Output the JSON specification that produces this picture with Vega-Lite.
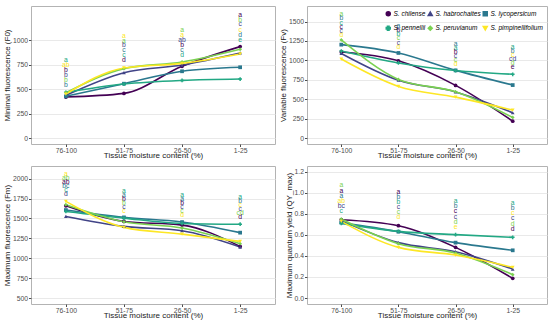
{
  "$schema": "https://vega.github.io/schema/vega-lite/v6.json",
  "background": "white",
  "padding": {"left": 2, "top": 5, "right": 6, "bottom": 0},
  "datasets": {
    "pts": [
      {"panel": "F0", "species": "S. chilense", "moisture": "76-100", "value": 420},
      {"panel": "F0", "species": "S. chilense", "moisture": "51-75", "value": 457},
      {"panel": "F0", "species": "S. chilense", "moisture": "26-50", "value": 734},
      {"panel": "F0", "species": "S. chilense", "moisture": "1-25", "value": 935},
      {"panel": "F0", "species": "S. habrochaites", "moisture": "76-100", "value": 437},
      {"panel": "F0", "species": "S. habrochaites", "moisture": "51-75", "value": 669},
      {"panel": "F0", "species": "S. habrochaites", "moisture": "26-50", "value": 747},
      {"panel": "F0", "species": "S. habrochaites", "moisture": "1-25", "value": 870},
      {"panel": "F0", "species": "S. lycopersicum", "moisture": "76-100", "value": 427},
      {"panel": "F0", "species": "S. lycopersicum", "moisture": "51-75", "value": 556},
      {"panel": "F0", "species": "S. lycopersicum", "moisture": "26-50", "value": 683},
      {"panel": "F0", "species": "S. lycopersicum", "moisture": "1-25", "value": 724},
      {"panel": "F0", "species": "S. pennellii", "moisture": "76-100", "value": 468},
      {"panel": "F0", "species": "S. pennellii", "moisture": "51-75", "value": 553},
      {"panel": "F0", "species": "S. pennellii", "moisture": "26-50", "value": 590},
      {"panel": "F0", "species": "S. pennellii", "moisture": "1-25", "value": 604},
      {"panel": "F0", "species": "S. peruvianum", "moisture": "76-100", "value": 464},
      {"panel": "F0", "species": "S. peruvianum", "moisture": "51-75", "value": 710},
      {"panel": "F0", "species": "S. peruvianum", "moisture": "26-50", "value": 778},
      {"panel": "F0", "species": "S. peruvianum", "moisture": "1-25", "value": 908},
      {"panel": "F0", "species": "S. pimpinellifolium", "moisture": "76-100", "value": 450},
      {"panel": "F0", "species": "S. pimpinellifolium", "moisture": "51-75", "value": 717},
      {"panel": "F0", "species": "S. pimpinellifolium", "moisture": "26-50", "value": 764},
      {"panel": "F0", "species": "S. pimpinellifolium", "moisture": "1-25", "value": 860},

      {"panel": "Fv", "species": "S. chilense", "moisture": "76-100", "value": 1109},
      {"panel": "Fv", "species": "S. chilense", "moisture": "51-75", "value": 995},
      {"panel": "Fv", "species": "S. chilense", "moisture": "26-50", "value": 679},
      {"panel": "Fv", "species": "S. chilense", "moisture": "1-25", "value": 219},
      {"panel": "Fv", "species": "S. habrochaites", "moisture": "76-100", "value": 1090},
      {"panel": "Fv", "species": "S. habrochaites", "moisture": "51-75", "value": 745},
      {"panel": "Fv", "species": "S. habrochaites", "moisture": "26-50", "value": 595},
      {"panel": "Fv", "species": "S. habrochaites", "moisture": "1-25", "value": 327},
      {"panel": "Fv", "species": "S. lycopersicum", "moisture": "76-100", "value": 1203},
      {"panel": "Fv", "species": "S. lycopersicum", "moisture": "51-75", "value": 1096},
      {"panel": "Fv", "species": "S. lycopersicum", "moisture": "26-50", "value": 872},
      {"panel": "Fv", "species": "S. lycopersicum", "moisture": "1-25", "value": 683},
      {"panel": "Fv", "species": "S. pennellii", "moisture": "76-100", "value": 1121},
      {"panel": "Fv", "species": "S. pennellii", "moisture": "51-75", "value": 967},
      {"panel": "Fv", "species": "S. pennellii", "moisture": "26-50", "value": 870},
      {"panel": "Fv", "species": "S. pennellii", "moisture": "1-25", "value": 822},
      {"panel": "Fv", "species": "S. peruvianum", "moisture": "76-100", "value": 1263},
      {"panel": "Fv", "species": "S. peruvianum", "moisture": "51-75", "value": 756},
      {"panel": "Fv", "species": "S. peruvianum", "moisture": "26-50", "value": 597},
      {"panel": "Fv", "species": "S. peruvianum", "moisture": "1-25", "value": 266},
      {"panel": "Fv", "species": "S. pimpinellifolium", "moisture": "76-100", "value": 1018},
      {"panel": "Fv", "species": "S. pimpinellifolium", "moisture": "51-75", "value": 666},
      {"panel": "Fv", "species": "S. pimpinellifolium", "moisture": "26-50", "value": 528},
      {"panel": "Fv", "species": "S. pimpinellifolium", "moisture": "1-25", "value": 361},

      {"panel": "Fm", "species": "S. chilense", "moisture": "76-100", "value": 1660},
      {"panel": "Fm", "species": "S. chilense", "moisture": "51-75", "value": 1463},
      {"panel": "Fm", "species": "S. chilense", "moisture": "26-50", "value": 1417},
      {"panel": "Fm", "species": "S. chilense", "moisture": "1-25", "value": 1149},
      {"panel": "Fm", "species": "S. habrochaites", "moisture": "76-100", "value": 1526},
      {"panel": "Fm", "species": "S. habrochaites", "moisture": "51-75", "value": 1401},
      {"panel": "Fm", "species": "S. habrochaites", "moisture": "26-50", "value": 1346},
      {"panel": "Fm", "species": "S. habrochaites", "moisture": "1-25", "value": 1141},
      {"panel": "Fm", "species": "S. lycopersicum", "moisture": "76-100", "value": 1606},
      {"panel": "Fm", "species": "S. lycopersicum", "moisture": "51-75", "value": 1514},
      {"panel": "Fm", "species": "S. lycopersicum", "moisture": "26-50", "value": 1455},
      {"panel": "Fm", "species": "S. lycopersicum", "moisture": "1-25", "value": 1322},
      {"panel": "Fm", "species": "S. pennellii", "moisture": "76-100", "value": 1589},
      {"panel": "Fm", "species": "S. pennellii", "moisture": "51-75", "value": 1505},
      {"panel": "Fm", "species": "S. pennellii", "moisture": "26-50", "value": 1438},
      {"panel": "Fm", "species": "S. pennellii", "moisture": "1-25", "value": 1428},
      {"panel": "Fm", "species": "S. peruvianum", "moisture": "76-100", "value": 1673},
      {"panel": "Fm", "species": "S. peruvianum", "moisture": "51-75", "value": 1459},
      {"panel": "Fm", "species": "S. peruvianum", "moisture": "26-50", "value": 1380},
      {"panel": "Fm", "species": "S. peruvianum", "moisture": "1-25", "value": 1183},
      {"panel": "Fm", "species": "S. pimpinellifolium", "moisture": "76-100", "value": 1715},
      {"panel": "Fm", "species": "S. pimpinellifolium", "moisture": "51-75", "value": 1388},
      {"panel": "Fm", "species": "S. pimpinellifolium", "moisture": "26-50", "value": 1304},
      {"panel": "Fm", "species": "S. pimpinellifolium", "moisture": "1-25", "value": 1212},

      {"panel": "QY", "species": "S. chilense", "moisture": "76-100", "value": 0.744},
      {"panel": "QY", "species": "S. chilense", "moisture": "51-75", "value": 0.687},
      {"panel": "QY", "species": "S. chilense", "moisture": "26-50", "value": 0.481},
      {"panel": "QY", "species": "S. chilense", "moisture": "1-25", "value": 0.187},
      {"panel": "QY", "species": "S. habrochaites", "moisture": "76-100", "value": 0.735},
      {"panel": "QY", "species": "S. habrochaites", "moisture": "51-75", "value": 0.526},
      {"panel": "QY", "species": "S. habrochaites", "moisture": "26-50", "value": 0.44},
      {"panel": "QY", "species": "S. habrochaites", "moisture": "1-25", "value": 0.275},
      {"panel": "QY", "species": "S. lycopersicum", "moisture": "76-100", "value": 0.716},
      {"panel": "QY", "species": "S. lycopersicum", "moisture": "51-75", "value": 0.63},
      {"panel": "QY", "species": "S. lycopersicum", "moisture": "26-50", "value": 0.526},
      {"panel": "QY", "species": "S. lycopersicum", "moisture": "1-25", "value": 0.453},
      {"panel": "QY", "species": "S. pennellii", "moisture": "76-100", "value": 0.709},
      {"panel": "QY", "species": "S. pennellii", "moisture": "51-75", "value": 0.633},
      {"panel": "QY", "species": "S. pennellii", "moisture": "26-50", "value": 0.602},
      {"panel": "QY", "species": "S. pennellii", "moisture": "1-25", "value": 0.576},
      {"panel": "QY", "species": "S. peruvianum", "moisture": "76-100", "value": 0.75},
      {"panel": "QY", "species": "S. peruvianum", "moisture": "51-75", "value": 0.516},
      {"panel": "QY", "species": "S. peruvianum", "moisture": "26-50", "value": 0.427},
      {"panel": "QY", "species": "S. peruvianum", "moisture": "1-25", "value": 0.222},
      {"panel": "QY", "species": "S. pimpinellifolium", "moisture": "76-100", "value": 0.728},
      {"panel": "QY", "species": "S. pimpinellifolium", "moisture": "51-75", "value": 0.481},
      {"panel": "QY", "species": "S. pimpinellifolium", "moisture": "26-50", "value": 0.408},
      {"panel": "QY", "species": "S. pimpinellifolium", "moisture": "1-25", "value": 0.291}
    ],
    "lets": [
      {"panel": "F0", "moisture": "76-100", "species": "S. pennellii", "letter": "a", "value": 795},
      {"panel": "F0", "moisture": "76-100", "species": "S. pimpinellifolium", "letter": "ab", "value": 744},
      {"panel": "F0", "moisture": "76-100", "species": "S. chilense", "letter": "b", "value": 693},
      {"panel": "F0", "moisture": "76-100", "species": "S. habrochaites", "letter": "b", "value": 645},
      {"panel": "F0", "moisture": "76-100", "species": "S. peruvianum", "letter": "b", "value": 594},
      {"panel": "F0", "moisture": "76-100", "species": "S. lycopersicum", "letter": "b", "value": 543},
      {"panel": "F0", "moisture": "51-75", "species": "S. pimpinellifolium", "letter": "a", "value": 1048},
      {"panel": "F0", "moisture": "51-75", "species": "S. peruvianum", "letter": "a", "value": 997},
      {"panel": "F0", "moisture": "51-75", "species": "S. habrochaites", "letter": "b", "value": 949},
      {"panel": "F0", "moisture": "51-75", "species": "S. lycopersicum", "letter": "c", "value": 898},
      {"panel": "F0", "moisture": "51-75", "species": "S. pennellii", "letter": "c", "value": 847},
      {"panel": "F0", "moisture": "51-75", "species": "S. chilense", "letter": "d", "value": 795},
      {"panel": "F0", "moisture": "26-50", "species": "S. peruvianum", "letter": "a", "value": 1106},
      {"panel": "F0", "moisture": "26-50", "species": "S. pimpinellifolium", "letter": "a", "value": 1055},
      {"panel": "F0", "moisture": "26-50", "species": "S. habrochaites", "letter": "ab", "value": 1003},
      {"panel": "F0", "moisture": "26-50", "species": "S. chilense", "letter": "b", "value": 952},
      {"panel": "F0", "moisture": "26-50", "species": "S. lycopersicum", "letter": "c", "value": 901},
      {"panel": "F0", "moisture": "26-50", "species": "S. pennellii", "letter": "d", "value": 850},
      {"panel": "F0", "moisture": "1-25", "species": "S. chilense", "letter": "a", "value": 1263},
      {"panel": "F0", "moisture": "1-25", "species": "S. peruvianum", "letter": "b", "value": 1212},
      {"panel": "F0", "moisture": "1-25", "species": "S. habrochaites", "letter": "c", "value": 1161},
      {"panel": "F0", "moisture": "1-25", "species": "S. pimpinellifolium", "letter": "c", "value": 1109},
      {"panel": "F0", "moisture": "1-25", "species": "S. lycopersicum", "letter": "d", "value": 1058},
      {"panel": "F0", "moisture": "1-25", "species": "S. pennellii", "letter": "e", "value": 1007},

      {"panel": "Fv", "moisture": "76-100", "species": "S. peruvianum", "letter": "a", "value": 1594},
      {"panel": "Fv", "moisture": "76-100", "species": "S. lycopersicum", "letter": "b", "value": 1540},
      {"panel": "Fv", "moisture": "76-100", "species": "S. pennellii", "letter": "c", "value": 1486},
      {"panel": "Fv", "moisture": "76-100", "species": "S. chilense", "letter": "c", "value": 1432},
      {"panel": "Fv", "moisture": "76-100", "species": "S. habrochaites", "letter": "c", "value": 1378},
      {"panel": "Fv", "moisture": "76-100", "species": "S. pimpinellifolium", "letter": "d", "value": 1324},
      {"panel": "Fv", "moisture": "51-75", "species": "S. lycopersicum", "letter": "a", "value": 1440},
      {"panel": "Fv", "moisture": "51-75", "species": "S. chilense", "letter": "b", "value": 1388},
      {"panel": "Fv", "moisture": "51-75", "species": "S. pennellii", "letter": "b", "value": 1335},
      {"panel": "Fv", "moisture": "51-75", "species": "S. peruvianum", "letter": "c", "value": 1283},
      {"panel": "Fv", "moisture": "51-75", "species": "S. habrochaites", "letter": "c", "value": 1230},
      {"panel": "Fv", "moisture": "51-75", "species": "S. pimpinellifolium", "letter": "d", "value": 1178},
      {"panel": "Fv", "moisture": "26-50", "species": "S. lycopersicum", "letter": "a", "value": 1216},
      {"panel": "Fv", "moisture": "26-50", "species": "S. pennellii", "letter": "a", "value": 1164},
      {"panel": "Fv", "moisture": "26-50", "species": "S. chilense", "letter": "b", "value": 1113},
      {"panel": "Fv", "moisture": "26-50", "species": "S. habrochaites", "letter": "c", "value": 1061},
      {"panel": "Fv", "moisture": "26-50", "species": "S. peruvianum", "letter": "c", "value": 1010},
      {"panel": "Fv", "moisture": "26-50", "species": "S. pimpinellifolium", "letter": "d", "value": 958},
      {"panel": "Fv", "moisture": "1-25", "species": "S. pennellii", "letter": "a", "value": 1177},
      {"panel": "Fv", "moisture": "1-25", "species": "S. lycopersicum", "letter": "b", "value": 1126},
      {"panel": "Fv", "moisture": "1-25", "species": "S. pimpinellifolium", "letter": "c", "value": 1074},
      {"panel": "Fv", "moisture": "1-25", "species": "S. habrochaites", "letter": "cd", "value": 1023},
      {"panel": "Fv", "moisture": "1-25", "species": "S. peruvianum", "letter": "d", "value": 971},
      {"panel": "Fv", "moisture": "1-25", "species": "S. chilense", "letter": "e", "value": 920},

      {"panel": "Fm", "moisture": "76-100", "species": "S. pimpinellifolium", "letter": "a", "value": 2058},
      {"panel": "Fm", "moisture": "76-100", "species": "S. peruvianum", "letter": "ab", "value": 2008},
      {"panel": "Fm", "moisture": "76-100", "species": "S. chilense", "letter": "ab", "value": 1958},
      {"panel": "Fm", "moisture": "76-100", "species": "S. lycopersicum", "letter": "bc", "value": 1907},
      {"panel": "Fm", "moisture": "76-100", "species": "S. pennellii", "letter": "c", "value": 1857},
      {"panel": "Fm", "moisture": "76-100", "species": "S. habrochaites", "letter": "d", "value": 1807},
      {"panel": "Fm", "moisture": "51-75", "species": "S. pennellii", "letter": "a", "value": 1840},
      {"panel": "Fm", "moisture": "51-75", "species": "S. lycopersicum", "letter": "a", "value": 1790},
      {"panel": "Fm", "moisture": "51-75", "species": "S. chilense", "letter": "b", "value": 1740},
      {"panel": "Fm", "moisture": "51-75", "species": "S. peruvianum", "letter": "b", "value": 1690},
      {"panel": "Fm", "moisture": "51-75", "species": "S. habrochaites", "letter": "c", "value": 1640},
      {"panel": "Fm", "moisture": "51-75", "species": "S. pimpinellifolium", "letter": "c", "value": 1589},
      {"panel": "Fm", "moisture": "26-50", "species": "S. pennellii", "letter": "a", "value": 1799},
      {"panel": "Fm", "moisture": "26-50", "species": "S. lycopersicum", "letter": "a", "value": 1749},
      {"panel": "Fm", "moisture": "26-50", "species": "S. chilense", "letter": "b", "value": 1698},
      {"panel": "Fm", "moisture": "26-50", "species": "S. habrochaites", "letter": "c", "value": 1648},
      {"panel": "Fm", "moisture": "26-50", "species": "S. peruvianum", "letter": "c", "value": 1598},
      {"panel": "Fm", "moisture": "26-50", "species": "S. pimpinellifolium", "letter": "d", "value": 1547},
      {"panel": "Fm", "moisture": "1-25", "species": "S. pennellii", "letter": "a", "value": 1765},
      {"panel": "Fm", "moisture": "1-25", "species": "S. lycopersicum", "letter": "b", "value": 1715},
      {"panel": "Fm", "moisture": "1-25", "species": "S. pimpinellifolium", "letter": "c", "value": 1665},
      {"panel": "Fm", "moisture": "1-25", "species": "S. habrochaites", "letter": "c", "value": 1614},
      {"panel": "Fm", "moisture": "1-25", "species": "S. peruvianum", "letter": "cd", "value": 1564},
      {"panel": "Fm", "moisture": "1-25", "species": "S. chilense", "letter": "d", "value": 1514},

      {"panel": "QY", "moisture": "76-100", "species": "S. peruvianum", "letter": "a", "value": 1.07},
      {"panel": "QY", "moisture": "76-100", "species": "S. chilense", "letter": "a", "value": 1.02},
      {"panel": "QY", "moisture": "76-100", "species": "S. lycopersicum", "letter": "a", "value": 0.972},
      {"panel": "QY", "moisture": "76-100", "species": "S. pimpinellifolium", "letter": "ab", "value": 0.925},
      {"panel": "QY", "moisture": "76-100", "species": "S. habrochaites", "letter": "bc", "value": 0.874},
      {"panel": "QY", "moisture": "76-100", "species": "S. pennellii", "letter": "c", "value": 0.823},
      {"panel": "QY", "moisture": "51-75", "species": "S. chilense", "letter": "a", "value": 1.01},
      {"panel": "QY", "moisture": "51-75", "species": "S. lycopersicum", "letter": "b", "value": 0.963},
      {"panel": "QY", "moisture": "51-75", "species": "S. pennellii", "letter": "b", "value": 0.915},
      {"panel": "QY", "moisture": "51-75", "species": "S. habrochaites", "letter": "c", "value": 0.864},
      {"panel": "QY", "moisture": "51-75", "species": "S. peruvianum", "letter": "c", "value": 0.817},
      {"panel": "QY", "moisture": "51-75", "species": "S. pimpinellifolium", "letter": "d", "value": 0.766},
      {"panel": "QY", "moisture": "26-50", "species": "S. pennellii", "letter": "a", "value": 0.918},
      {"panel": "QY", "moisture": "26-50", "species": "S. lycopersicum", "letter": "b", "value": 0.871},
      {"panel": "QY", "moisture": "26-50", "species": "S. chilense", "letter": "c", "value": 0.823},
      {"panel": "QY", "moisture": "26-50", "species": "S. habrochaites", "letter": "c", "value": 0.773},
      {"panel": "QY", "moisture": "26-50", "species": "S. peruvianum", "letter": "d", "value": 0.725},
      {"panel": "QY", "moisture": "26-50", "species": "S. pimpinellifolium", "letter": "e", "value": 0.674},
      {"panel": "QY", "moisture": "1-25", "species": "S. pennellii", "letter": "a", "value": 0.902},
      {"panel": "QY", "moisture": "1-25", "species": "S. lycopersicum", "letter": "b", "value": 0.852},
      {"panel": "QY", "moisture": "1-25", "species": "S. pimpinellifolium", "letter": "c", "value": 0.804},
      {"panel": "QY", "moisture": "1-25", "species": "S. habrochaites", "letter": "c", "value": 0.757},
      {"panel": "QY", "moisture": "1-25", "species": "S. peruvianum", "letter": "d", "value": 0.706},
      {"panel": "QY", "moisture": "1-25", "species": "S. chilense", "letter": "d", "value": 0.655}
    ]
  },
  "columns": 2,
  "spacing": {"row": 5, "column": 2},
  "resolve": {"scale": {"color": "independent", "shape": "independent"}},
  "concat": [
    {
      "width": 244, "height": 138,
      "encoding": {
        "x": {"field": "moisture", "type": "nominal", "sort": ["76-100", "51-75", "26-50", "1-25"], "scale": {"type": "point", "padding": 0.6}, "axis": {"labelAngle": 0, "title": "Tissue moisture content (%)"}},
        "y": {"field": "value", "type": "quantitative", "title": "Minimal fluorescence (F0)", "scale": {"domain": [-60, 1350], "nice": false, "zero": false},
          "axis": {"values": [0, 250, 500, 750, 1000], "format": "d", "labelOverlap": false}},
        "color": {"field": "species", "type": "nominal", "legend": null, "scale": {"domain": ["S. chilense", "S. habrochaites", "S. lycopersicum", "S. pennellii", "S. peruvianum", "S. pimpinellifolium"], "range": ["#440154", "#414487", "#2A788E", "#22A884", "#7AD151", "#FDE725"]}}
      },
      "layer": [
        {"data": {"name": "pts"}, "transform": [{"filter": "datum.panel === 'F0'"}],
         "mark": {"type": "line", "interpolate": "monotone", "strokeWidth": 1.6}, "encoding": {}},
        {"data": {"name": "pts"}, "transform": [{"filter": "datum.panel === 'F0'"}],
         "mark": {"type": "point", "filled": true, "size": 14, "opacity": 1},
         "encoding": {"shape": {"field": "species", "type": "nominal", "legend": null, "scale": {"domain": ["S. chilense", "S. habrochaites", "S. lycopersicum", "S. pennellii", "S. peruvianum", "S. pimpinellifolium"], "range": ["circle", "triangle-up", "square", "cross", "diamond", "triangle-down"]}}}},
        {"data": {"name": "lets"}, "transform": [{"filter": "datum.panel === 'F0'"}],
         "mark": {"type": "text", "fontSize": 6.8, "baseline": "middle"},
         "encoding": {"text": {"field": "letter"}}}
      ]
    },
    {
      "width": 240, "height": 138,
      "encoding": {
        "x": {"field": "moisture", "type": "nominal", "sort": ["76-100", "51-75", "26-50", "1-25"], "scale": {"type": "point", "padding": 0.6}, "axis": {"labelAngle": 0, "title": "Tissue moisture content (%)"}},
        "y": {"field": "value", "type": "quantitative", "title": "Variable fluorescence (Fv)", "scale": {"domain": [-75, 1700], "nice": false, "zero": false},
          "axis": {"values": [0, 250, 500, 750, 1000, 1250, 1500], "format": "d", "labelOverlap": false}},
        "color": {"field": "species", "type": "nominal", "legend": {"orient": "top-right"}, "scale": {"domain": ["S. chilense", "S. habrochaites", "S. lycopersicum", "S. pennellii", "S. peruvianum", "S. pimpinellifolium"], "range": ["#440154", "#414487", "#2A788E", "#22A884", "#7AD151", "#FDE725"]}}
      },
      "layer": [
        {"data": {"name": "pts"}, "transform": [{"filter": "datum.panel === 'Fv'"}],
         "mark": {"type": "line", "interpolate": "monotone", "strokeWidth": 1.6}, "encoding": {}},
        {"data": {"name": "pts"}, "transform": [{"filter": "datum.panel === 'Fv'"}],
         "mark": {"type": "point", "filled": true, "size": 14, "opacity": 1},
         "encoding": {"shape": {"field": "species", "type": "nominal", "legend": {"orient": "top-right"}, "scale": {"domain": ["S. chilense", "S. habrochaites", "S. lycopersicum", "S. pennellii", "S. peruvianum", "S. pimpinellifolium"], "range": ["circle", "triangle-up", "square", "cross", "diamond", "triangle-down"]}}}},
        {"data": {"name": "lets"}, "transform": [{"filter": "datum.panel === 'Fv'"}],
         "mark": {"type": "text", "fontSize": 6.8, "baseline": "middle"},
         "encoding": {"text": {"field": "letter"}}}
      ]
    },
    {
      "width": 244, "height": 138,
      "encoding": {
        "x": {"field": "moisture", "type": "nominal", "sort": ["76-100", "51-75", "26-50", "1-25"], "scale": {"type": "point", "padding": 0.6}, "axis": {"labelAngle": 0, "title": "Tissue moisture content (%)"}},
        "y": {"field": "value", "type": "quantitative", "title": "Maximum fluorescence (Fm)", "scale": {"domain": [425, 2160], "nice": false, "zero": false},
          "axis": {"values": [500, 750, 1000, 1250, 1500, 1750, 2000], "format": "d", "labelOverlap": false}},
        "color": {"field": "species", "type": "nominal", "legend": null, "scale": {"domain": ["S. chilense", "S. habrochaites", "S. lycopersicum", "S. pennellii", "S. peruvianum", "S. pimpinellifolium"], "range": ["#440154", "#414487", "#2A788E", "#22A884", "#7AD151", "#FDE725"]}}
      },
      "layer": [
        {"data": {"name": "pts"}, "transform": [{"filter": "datum.panel === 'Fm'"}],
         "mark": {"type": "line", "interpolate": "monotone", "strokeWidth": 1.6}, "encoding": {}},
        {"data": {"name": "pts"}, "transform": [{"filter": "datum.panel === 'Fm'"}],
         "mark": {"type": "point", "filled": true, "size": 14, "opacity": 1},
         "encoding": {"shape": {"field": "species", "type": "nominal", "legend": null, "scale": {"domain": ["S. chilense", "S. habrochaites", "S. lycopersicum", "S. pennellii", "S. peruvianum", "S. pimpinellifolium"], "range": ["circle", "triangle-up", "square", "cross", "diamond", "triangle-down"]}}}},
        {"data": {"name": "lets"}, "transform": [{"filter": "datum.panel === 'Fm'"}],
         "mark": {"type": "text", "fontSize": 6.8, "baseline": "middle"},
         "encoding": {"text": {"field": "letter"}}}
      ]
    },
    {
      "width": 240, "height": 138,
      "encoding": {
        "x": {"field": "moisture", "type": "nominal", "sort": ["76-100", "51-75", "26-50", "1-25"], "scale": {"type": "point", "padding": 0.6}, "axis": {"labelAngle": 0, "title": "Tissue moisture content (%)"}},
        "y": {"field": "value", "type": "quantitative", "title": "Maximum quantum yield (QY_max)", "scale": {"domain": [-0.057, 1.254], "nice": false, "zero": false},
          "axis": {"values": [0, 0.2, 0.4, 0.6, 0.8, 1.0, 1.2], "format": ".1f", "labelOverlap": false}},
        "color": {"field": "species", "type": "nominal", "legend": null, "scale": {"domain": ["S. chilense", "S. habrochaites", "S. lycopersicum", "S. pennellii", "S. peruvianum", "S. pimpinellifolium"], "range": ["#440154", "#414487", "#2A788E", "#22A884", "#7AD151", "#FDE725"]}}
      },
      "layer": [
        {"data": {"name": "pts"}, "transform": [{"filter": "datum.panel === 'QY'"}],
         "mark": {"type": "line", "interpolate": "monotone", "strokeWidth": 1.6}, "encoding": {}},
        {"data": {"name": "pts"}, "transform": [{"filter": "datum.panel === 'QY'"}],
         "mark": {"type": "point", "filled": true, "size": 14, "opacity": 1},
         "encoding": {"shape": {"field": "species", "type": "nominal", "legend": null, "scale": {"domain": ["S. chilense", "S. habrochaites", "S. lycopersicum", "S. pennellii", "S. peruvianum", "S. pimpinellifolium"], "range": ["circle", "triangle-up", "square", "cross", "diamond", "triangle-down"]}}}},
        {"data": {"name": "lets"}, "transform": [{"filter": "datum.panel === 'QY'"}],
         "mark": {"type": "text", "fontSize": 6.8, "baseline": "middle"},
         "encoding": {"text": {"field": "letter"}}}
      ]
    }
  ],
  "config": {
    "font": "Liberation Sans",
    "view": {"stroke": "#b3b3b3", "strokeWidth": 1},
    "axis": {"labelFontSize": 6.8, "labelColor": "#4d4d4d", "titleFontSize": 8, "titleFontWeight": "normal", "titleColor": "#1a1a1a", "gridColor": "#e6e6e6", "gridWidth": 0.9, "tickColor": "#4d4d4d", "tickSize": 2.5, "domain": false, "labelPadding": 1, "titlePadding": 1, "labelOverlap": false},
    "axisX": {"titlePadding": -2.5, "labelPadding": 0.5},
    "legend": {"direction": "horizontal", "columns": 3, "title": null, "labelFont": "Liberation Sans", "labelFontStyle": "italic", "labelFontSize": 6.5, "labelLimit": 300, "symbolSize": 16, "columnPadding": -1, "rowPadding": 4, "offset": 3, "padding": 1, "labelOffset": 2}
  }
}
